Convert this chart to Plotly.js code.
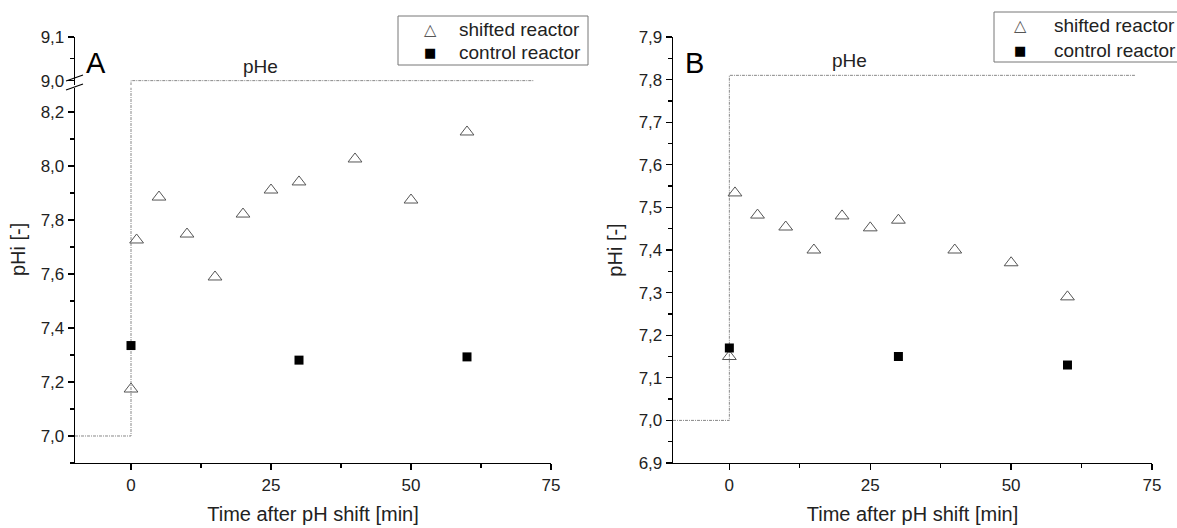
<!DOCTYPE html>
<html>
<head>
<meta charset="utf-8">
<script src="https://cdn.plot.ly/plotly-3.0.1.min.js"></script>
<style>html,body{margin:0;padding:0;background:#fff;}#chart{width:1177px;height:528px;}</style>
</head>
<body>
<div id="chart"></div>
<script>
// ---- data ----
const times = [0, 1, 5, 10, 15, 20, 25, 30, 40, 50, 60];
const controlTimes = [0, 30, 60];
const shiftedA = [7.174, 7.726, 7.885, 7.748, 7.589, 7.822, 7.911, 7.941, 8.026, 7.874, 8.126];
const controlA = [7.335, 7.281, 7.293];
const shiftedB = [7.15, 7.534, 7.482, 7.454, 7.40, 7.48, 7.452, 7.47, 7.40, 7.37, 7.29];
const controlB = [7.17, 7.15, 7.13];
const pheTimes = [-10, 0, 0, 72];
const pheA = [7.0, 7.0, 9.0, 9.0];
const pheB = [7.0, 7.0, 7.81, 7.81];
const seriesNames = ['shifted reactor', 'control reactor'];
const legendSymbols = ['\u25B3', '\u25A0'];
const xTicks = [0, 25, 50, 75];
const yTicksALow = [7.0, 7.2, 7.4, 7.6, 7.8, 8.0, 8.2];
const yTicksAHigh = [9.0, 9.1];
const yTicksB = [6.9, 7.0, 7.1, 7.2, 7.3, 7.4, 7.5, 7.6, 7.7, 7.8, 7.9];

// ---- styling ----
const W = 1177, H = 528;
const px = v => v / W, py = v => 1 - v / H;
const txt = '#222';
const triColor = '#555';
const triMarker = {symbol: 'triangle-up-open', size: 12, color: triColor, line: {color: triColor, width: 1}};
const sqMarker = {symbol: 'square', size: 9, color: '#000', line: {width: 0}};
const pheLine = {color: '#888', width: 1, dash: '3px,1px,1px,1px'};

const traces = [
  {x: pheTimes, y: pheA, xaxis: 'x', yaxis: 'y', mode: 'lines', line: pheLine, hoverinfo: 'skip'},
  {x: pheTimes, y: pheA, xaxis: 'x', yaxis: 'y3', mode: 'lines', line: pheLine, hoverinfo: 'skip'},
  {x: times, y: shiftedA, xaxis: 'x', yaxis: 'y', mode: 'markers', name: seriesNames[0], marker: triMarker, cliponaxis: false},
  {x: controlTimes, y: controlA, xaxis: 'x', yaxis: 'y', mode: 'markers', name: seriesNames[1], marker: sqMarker, cliponaxis: false},
  {x: pheTimes, y: pheB, xaxis: 'x2', yaxis: 'y2', mode: 'lines', line: pheLine, hoverinfo: 'skip'},
  {x: times, y: shiftedB, xaxis: 'x2', yaxis: 'y2', mode: 'markers', name: seriesNames[0], marker: triMarker, cliponaxis: false},
  {x: controlTimes, y: controlB, xaxis: 'x2', yaxis: 'y2', mode: 'markers', name: seriesNames[1], marker: sqMarker, cliponaxis: false}
];

const tickFont = {size: 17, color: txt};
const titleFont = {size: 20, color: txt};
const axBase = {
  showgrid: false, zeroline: false, showline: true, linecolor: '#000', linewidth: 1.3,
  ticks: 'outside', ticklen: 6, tickwidth: 1.3, tickcolor: '#000',
  tickfont: tickFont, fixedrange: true
};
const minorOf = vals => ({tickvals: vals, ticks: 'outside', ticklen: 3.5, tickwidth: 1.3, tickcolor: '#000'});

const yLowTop = 463 - (8.29 - 6.9) * 270;

// manual legend boxes (positions in pixels)
const legendBoxes = [
  {x0: 398, x1: 588, y0: 16, y1: 65, symX: 430, textX: 457, rows: [30, 53]},
  {x0: 994, x1: 1190, y0: 12, y1: 62, symX: 1020, textX: 1052, rows: [26, 51]}
];
const legendShapes = [];
const legendAnns = [];
legendBoxes.forEach(b => {
  legendShapes.push({type: 'rect', xref: 'paper', yref: 'paper', x0: px(b.x0), x1: px(b.x1), y0: py(b.y0), y1: py(b.y1),
    line: {color: '#777', width: 1}, fillcolor: 'rgba(0,0,0,0)'});
  seriesNames.forEach((name, i) => {
    legendAnns.push({text: name, xref: 'paper', yref: 'paper', x: px(b.textX), y: py(b.rows[i]), xanchor: 'left', yanchor: 'middle',
      showarrow: false, font: {size: 19, color: txt}});
    legendAnns.push({text: legendSymbols[i], xref: 'paper', yref: 'paper', x: px(b.symX), y: py(b.rows[i] + (i === 0 ? -1 : 0)), xanchor: 'center', yanchor: 'middle',
      showarrow: false, font: {family: 'DejaVu Sans', size: i === 0 ? 16 : 13, color: i === 0 ? triColor : '#000'}});
  });
});

const layout = {
  width: W, height: H,
  margin: {l: 0, r: 0, t: 0, b: 0, autoexpand: false},
  paper_bgcolor: '#fff', plot_bgcolor: 'rgba(0,0,0,0)',
  separators: ',.',
  showlegend: false,
  font: {family: 'Liberation Sans, Arial, sans-serif', color: txt},
  xaxis: Object.assign({}, axBase, {
    domain: [px(75), px(551)], range: [-10, 75], anchor: 'y',
    tickmode: 'array', tickvals: xTicks,
    minor: minorOf([12.5, 37.5, 62.5]),
    title: {text: 'Time after pH shift [min]', font: titleFont, standoff: 13}
  }),
  yaxis: Object.assign({}, axBase, {
    domain: [py(463), py(yLowTop)], range: [6.9, 8.29], anchor: 'x',
    tickmode: 'array', tickvals: yTicksALow, tickformat: '.1f',
    minor: minorOf([6.9, 7.1, 7.3, 7.5, 7.7, 7.9, 8.1])
  }),
  yaxis3: Object.assign({}, axBase, {
    domain: [py(85), py(37)], range: [8.99, 9.1], anchor: 'x',
    tickmode: 'array', tickvals: yTicksAHigh, tickformat: '.1f',
    minor: minorOf([9.05])
  }),
  xaxis2: Object.assign({}, axBase, {
    domain: [px(673), px(1152)], range: [-10, 75], anchor: 'y2',
    tickmode: 'array', tickvals: xTicks,
    minor: minorOf([12.5, 37.5, 62.5]),
    title: {text: 'Time after pH shift [min]', font: titleFont, standoff: 13}
  }),
  yaxis2: Object.assign({}, axBase, {
    domain: [py(463), py(37)], range: [6.9, 7.9], anchor: 'x2',
    tickmode: 'array', tickvals: yTicksB, tickformat: '.1f',
    minor: minorOf([6.95, 7.05, 7.15, 7.25, 7.35, 7.45, 7.55, 7.65, 7.75, 7.85]),
    title: {text: 'pHi [-]', font: titleFont, standoff: 10}
  }),
  annotations: [
    {text: 'pHi [-]', xref: 'paper', yref: 'paper', x: px(18), y: py(250), xanchor: 'center', yanchor: 'middle', textangle: -90, showarrow: false, font: titleFont},
    {text: 'A', xref: 'paper', yref: 'paper', x: px(96), y: py(63), xanchor: 'center', yanchor: 'middle', showarrow: false, font: {size: 29, color: '#000'}},
    {text: 'B', xref: 'paper', yref: 'paper', x: px(694), y: py(63), xanchor: 'center', yanchor: 'middle', showarrow: false, font: {size: 29, color: '#000'}},
    {text: 'pHe', xref: 'paper', yref: 'paper', x: px(260), y: py(66), xanchor: 'center', yanchor: 'middle', showarrow: false, font: {size: 19, color: txt}},
    {text: 'pHe', xref: 'paper', yref: 'paper', x: px(850), y: py(61), xanchor: 'center', yanchor: 'middle', showarrow: false, font: {size: 19, color: txt}}
  ].concat(legendAnns),
  shapes: [
    {type: 'line', xref: 'paper', yref: 'paper', x0: px(66), y0: py(81), x1: px(83), y1: py(75), line: {color: '#000', width: 1.3}},
    {type: 'line', xref: 'paper', yref: 'paper', x0: px(66), y0: py(90), x1: px(83), y1: py(84), line: {color: '#000', width: 1.3}}
  ].concat(legendShapes)
};

Plotly.newPlot('chart', traces, layout, {staticPlot: true, displayModeBar: false});
</script>
</body>
</html>
